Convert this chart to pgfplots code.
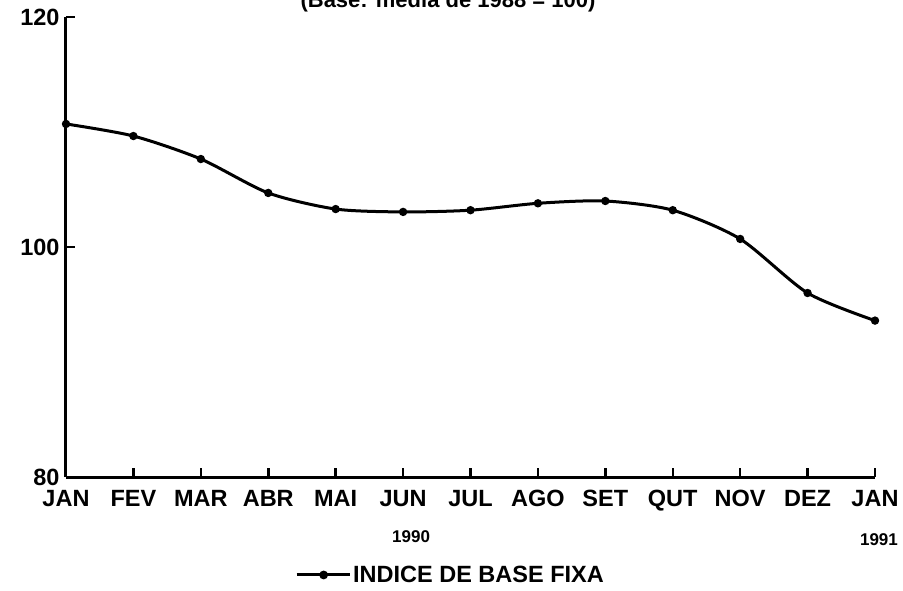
\documentclass[border=0pt]{standalone}
\usepackage{fontspec}
\setmainfont{Liberation Sans}
\usepackage{pgfplots}
\pgfplotsset{compat=1.18}
\begin{document}
\begin{tikzpicture}[x=1pt,y=1pt]
\begin{axis}[
  scale only axis, width=809pt, height=460pt,
  at={(66pt,-477pt)}, anchor=south west,
  xmin=0, xmax=12, ymin=80, ymax=120,
  axis lines=left,
  axis line style={-, line width=3pt, black},
  xtick={0,...,12},
  xticklabels={JAN,FEV,MAR,ABR,MAI,JUN,JUL,AGO,SET,QUT,NOV,DEZ,JAN},
  ytick={80,100,120},
  tick align=inside, major tick length=9pt,
  every tick/.style={line width=2.5pt, black},
  tick label style={font=\fontsize{23.5}{28}\selectfont\bfseries},
  /pgf/number format/assume math mode=true,
  xticklabel style={yshift=-10pt},
  yticklabel style={xshift=-3pt},
  clip=false,
  legend style={draw=none, fill=none, at={(0.283,-0.213)}, anchor=west, inner sep=0pt,
    font=\fontsize{23.5}{28}\selectfont\bfseries, column sep=0pt},
  legend image code/.code={\draw[line width=3pt] (0pt,0pt) -- (53pt,0pt); \fill (27pt,0pt) circle (2.8pt);},
]
\addplot[line width=3pt, black, smooth, tension=0.45, mark=*, mark size=2.6pt] coordinates {
  (0,110.7) (1,109.65) (2,107.65) (3,104.7) (4,103.3) (5,103.05) (6,103.2)
  (7,103.8) (8,104.0) (9,103.2) (10,100.7) (11,96.0) (12,93.6)
};
\addlegendentry{INDICE DE BASE FIXA}
\node[font=\fontsize{17}{20}\selectfont\bfseries] at (axis cs:5,80) [yshift=-60pt, xshift=8pt] {1990};
\node[font=\fontsize{17}{20}\selectfont\bfseries] at (axis cs:12,80) [yshift=-63pt, xshift=4pt] {1991};
\end{axis}
\node[anchor=base, font=\fontsize{22}{26}\selectfont\bfseries] at (448pt,-8pt) {(Base: média de 1988 = 100)};
\pgfresetboundingbox
\path[use as bounding box] (0pt,0pt) rectangle (903pt,-591pt);
\end{tikzpicture}
\end{document}
